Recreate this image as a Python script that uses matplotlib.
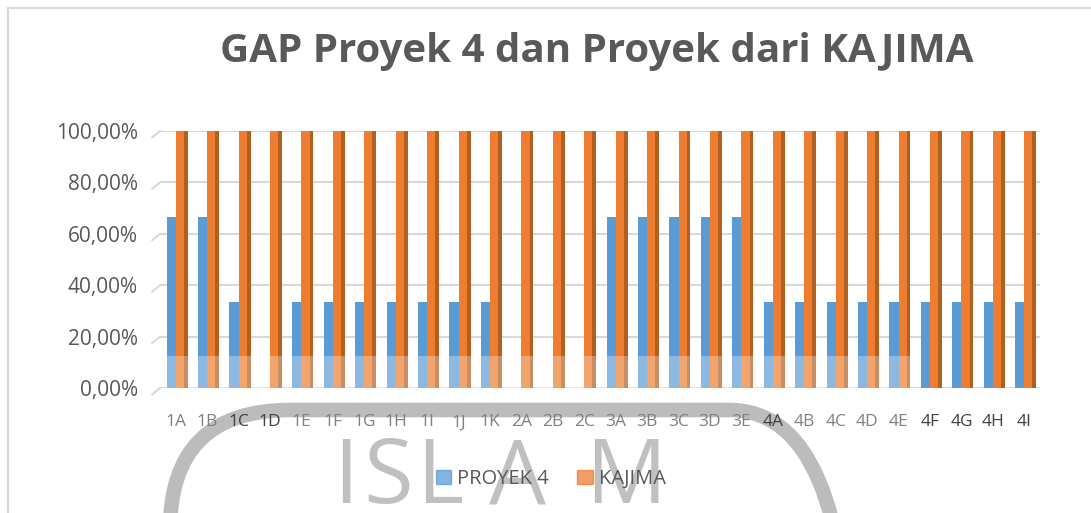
import numpy as np
import matplotlib
matplotlib.use('Agg')
import matplotlib.pyplot as plt
from matplotlib.patches import Rectangle, FancyBboxPatch
from matplotlib.lines import Line2D
from matplotlib.transforms import IdentityTransform

plt.rcParams['font.family'] = ['Open Sans', 'DejaVu Sans']

categories = ['1A', '1B', '1C', '1D', '1E', '1F', '1G', '1H', '1I', '1J', '1K',
              '2A', '2B', '2C', '3A', '3B', '3C', '3D', '3E',
              '4A', '4B', '4C', '4D', '4E', '4F', '4G', '4H', '4I']
proyek4 = [66.67, 66.67, 33.33, 0, 33.33, 33.33, 33.33, 33.33, 33.33, 33.33, 33.33,
           0, 0, 0, 66.67, 66.67, 66.67, 66.67, 66.67,
           33.33, 33.33, 33.33, 33.33, 33.33, 33.33, 33.33, 33.33, 33.33]
kajima = [100.0] * 28
y_ticks = [0, 20, 40, 60, 80, 100]
y_labels = ['0,00%', '20,00%', '40,00%', '60,00%', '80,00%', '100,00%']

fig = plt.figure(figsize=(10.91, 5.13), dpi=100)
ax = fig.add_axes([0.1467, 0.2437, 0.8065, 0.5010])
ax.set_facecolor('none')

x = np.arange(len(categories))
ax.bar(x - 0.145, proyek4, width=0.29, color='#5B9BD5', zorder=3)
ax.bar(x + 0.13, kajima, width=0.26, color='#ED7D31', zorder=3)
ax.bar(x + 0.32, kajima, width=0.12, color='#B3601F', zorder=3)  # side face (3d look)

ax.set_xlim(-0.5, 27.5)
ax.set_ylim(0, 100)
ax.set_yticks(y_ticks)
ax.set_yticklabels(y_labels, fontsize=15, color='#595959')
ax.set_xticks(x)
ax.set_xticklabels(categories, fontsize=12.5)
dark = {'1C', '1D', '4A', '4F', '4G', '4H', '4I'}
for lab in ax.get_xticklabels():
    lab.set_color('#404040' if lab.get_text() in dark else '#808080')
ax.tick_params(axis='y', length=0, pad=16)
ax.tick_params(axis='x', length=0, pad=19)
ax.grid(axis='y', color='#d9d9d9', lw=1.5, zorder=0)
for s in ax.spines.values():
    s.set_visible(False)

# small diagonal stubs of the 3d walls
for t in y_ticks:
    ax.plot([-0.75, -0.5], [t - 2.5, t], color='#d9d9d9', lw=1.5, clip_on=False)

# faded band near the floor (scan artifact)
ax.add_patch(Rectangle((-0.35, 0), 23.75, 12.5, color='white', alpha=0.3, zorder=4, lw=0))

fig.text(0.547, 0.90, 'GAP Proyek 4 dan Proyek dari KAJIMA', ha='center', va='center',
         fontsize=29, fontweight='bold', color='#595959')

handles = [Rectangle((0, 0), 1, 1, color='#5B9BD5', alpha=0.75),
           Rectangle((0, 0), 1, 1, color='#ED7D31', alpha=0.75)]
fig.legend(handles, ['PROYEK 4', 'KAJIMA'], loc='center', bbox_to_anchor=(0.505, 0.066),
           ncol=2, frameon=False, fontsize=14.5, labelcolor='#595959',
           handlelength=0.75, handleheight=0.75, handletextpad=0.3, columnspacing=1.4)

# watermark (rounded frame + letters)
fig.add_artist(FancyBboxPatch((170, -300), 679, 403, boxstyle='round,pad=0,rounding_size=120',
                              transform=IdentityTransform(), fill=False, ec='#bcbcbc',
                              lw=10.5, zorder=-1))
for ch, xc in zip('ISLAM', [346, 388, 440, 518, 626]):
    fig.text(xc / 1091, 10 / 513, ch, ha='center', va='baseline', fontsize=65,
             color='#c0c0c0', zorder=-1)

# chart frame
fig.add_artist(Line2D([8 / 1091, 1], [1 - 8 / 513, 1 - 8 / 513], transform=fig.transFigure,
                      color='#d9d9d9', lw=1.5))
fig.add_artist(Line2D([8 / 1091, 8 / 1091], [0, 1 - 8 / 513], transform=fig.transFigure,
                      color='#d9d9d9', lw=1.5))

fig.savefig('out.png', dpi=100)
